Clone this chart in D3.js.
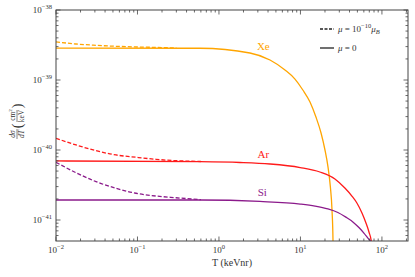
<!DOCTYPE html>
<html>
<head>
<meta charset="utf-8">
<script src="https://cdn.jsdelivr.net/npm/d3@7"></script>
<style>
  body { margin: 0; background: #fff; }
  text { font-family: "Liberation Serif", "DejaVu Serif", serif; fill: #333; }
</style>
</head>
<body>
<svg id="chart" width="415" height="277" font-family="Liberation Serif, serif"></svg>
<script>
// values (T in keVnr, dsigma/dT in cm^2/keV)
const xeSolidT = [0.01, 0.585, 2.4, 4.23, 6.46, 8.57, 10.7, 13.1, 15.5, 17.9, 20.0, 21.8, 23.3, 24.4, 25.1, 25.3];
const xeSolid = [2.86e-39, 2.84e-39, 2.43e-39, 1.93e-39, 1.39e-39, 1.03e-39, 7.2e-40, 4.85e-40, 2.96e-40, 1.75e-40, 1.0e-40, 5.7e-41, 2.96e-41, 1.39e-41, 5e-42, 1e-42];
const xeDashT = [0.01, 0.0176, 0.031, 0.0545, 0.169, 0.3];
const xeDash = [3.5e-39, 3.27e-39, 3.13e-39, 3.03e-39, 2.92e-39, 2.87e-39];

const arSolidT = [0.01, 0.585, 1.81, 4.23, 9.92, 17.3, 26.5, 35.1, 42.8, 49.3, 56.9, 63.7, 69.3, 74.3, 76];
const arSolid = [6.97e-41, 6.8e-41, 6.63e-41, 6.31e-41, 5.62e-41, 4.85e-41, 3.85e-41, 2.86e-41, 2.2e-41, 1.75e-41, 1.26e-41, 9.06e-42, 6.74e-42, 4.85e-42, 1e-42];
const arDashT = [0.01, 0.0176, 0.031, 0.0545, 0.096, 0.169, 0.297, 0.6];
const arDash = [1.47e-40, 1.18e-40, 9.77e-41, 8.49e-41, 7.87e-41, 7.36e-41, 7.04e-41, 6.85e-41];

const siSolidT = [0.01, 0.585, 3.18, 9.92, 15.1, 21.7, 28.8, 36.1, 44.0, 52.2, 60.1, 67.3, 73.3, 77.6];
const siSolid = [1.93e-41, 1.93e-41, 1.84e-41, 1.69e-41, 1.58e-41, 1.44e-41, 1.28e-41, 1.10e-41, 9.4e-42, 7.8e-42, 6.5e-42, 5.5e-42, 4.85e-42, 1e-42];
const siDashT = [0.01, 0.0176, 0.031, 0.0545, 0.096, 0.169, 0.297, 0.6];
const siDash = [6.67e-41, 4.74e-41, 3.53e-41, 2.84e-41, 2.41e-41, 2.2e-41, 2.08e-41, 1.95e-41];

const xTickExp = [-2, -1, 0, 1, 2];
const yTickExp = [-41, -40, -39, -38];

const series = [
  {name: "Xe", color: "#ffa500", T: xeSolidT, v: xeSolid, dT: xeDashT, dv: xeDash, lab: [3.5, 2.68e-39]},
  {name: "Ar", color: "#ff1a1a", T: arSolidT, v: arSolid, dT: arDashT, dv: arDash, lab: [3.5, 7.7e-41]},
  {name: "Si", color: "#8b1a8b", T: siSolidT, v: siSolid, dT: siDashT, dv: siDash, lab: [3.4, 2.2e-41]}
];

const svg = d3.select('#chart');
const mLeft = 56, mRight = 408, mTop = 10, mBottom = 241;

const x = d3.scaleLog().domain([0.01, Math.pow(10, 2.32)]).range([mLeft, mRight]);
const y = d3.scaleLog().domain([Math.pow(10, -41.3), 1e-38]).range([mBottom, mTop]);

svg.append('clipPath').attr('id', 'clip')
  .append('rect').attr('x', mLeft).attr('y', mTop).attr('width', mRight - mLeft).attr('height', mBottom - mTop);

const line = d3.line().x(d => x(d[0])).y(d => y(d[1])).curve(d3.curveMonotoneX);

const plot = svg.append('g').attr('clip-path', 'url(#clip)');
series.forEach(s => {
  plot.append('path')
    .attr('d', line(s.T.map((t, i) => [t, s.v[i]])))
    .attr('fill', 'none').attr('stroke', s.color).attr('stroke-width', 1.3);
  plot.append('path')
    .attr('d', line(s.dT.map((t, i) => [t, s.dv[i]])))
    .attr('fill', 'none').attr('stroke', s.color).attr('stroke-width', 1.3)
    .attr('stroke-dasharray', '4,2');
  svg.append('text')
    .attr('x', x(s.lab[0])).attr('y', y(s.lab[1]))
    .attr('text-anchor', 'middle').attr('font-size', 11)
    .style('fill', s.color).text(s.name);
});

// frame and ticks (inside, on all four sides)
const axisColor = '#444';
svg.append('rect').attr('x', mLeft).attr('y', mTop).attr('width', mRight - mLeft).attr('height', mBottom - mTop)
  .attr('fill', 'none').attr('stroke', axisColor).attr('stroke-width', 1);

const xMinor = [], yMinor = [];
for (let e = -2; e <= 2; e++) for (let k = 2; k <= 9; k++) { const v = k * Math.pow(10, e); if (v < x.domain()[1]) xMinor.push(v); }
for (let e = -42; e <= -39; e++) for (let k = 2; k <= 9; k++) { const v = k * Math.pow(10, e); if (v > y.domain()[0] && v < 1e-38) yMinor.push(v); }

const ticks = svg.append('g').attr('stroke', axisColor).attr('stroke-width', 0.8);
xTickExp.forEach(e => {
  const px = x(Math.pow(10, e));
  ticks.append('line').attr('x1', px).attr('x2', px).attr('y1', mBottom).attr('y2', mBottom - 4.5);
  ticks.append('line').attr('x1', px).attr('x2', px).attr('y1', mTop).attr('y2', mTop + 4.5);
});
xMinor.forEach(v => {
  const px = x(v);
  ticks.append('line').attr('x1', px).attr('x2', px).attr('y1', mBottom).attr('y2', mBottom - 2.5);
  ticks.append('line').attr('x1', px).attr('x2', px).attr('y1', mTop).attr('y2', mTop + 2.5);
});
yTickExp.forEach(e => {
  const py = y(Math.pow(10, e));
  ticks.append('line').attr('x1', mLeft).attr('x2', mLeft + 4.5).attr('y1', py).attr('y2', py);
  ticks.append('line').attr('x1', mRight).attr('x2', mRight - 4.5).attr('y1', py).attr('y2', py);
});
yMinor.forEach(v => {
  const py = y(v);
  ticks.append('line').attr('x1', mLeft).attr('x2', mLeft + 2.5).attr('y1', py).attr('y2', py);
  ticks.append('line').attr('x1', mRight).attr('x2', mRight - 2.5).attr('y1', py).attr('y2', py);
});

// tick labels 10^n
xTickExp.forEach(e => {
  const t = svg.append('text').attr('x', x(Math.pow(10, e))).attr('y', mBottom + 12)
    .attr('text-anchor', 'middle').attr('font-size', 9);
  t.append('tspan').text('10');
  t.append('tspan').attr('dy', -4).attr('font-size', 6.5).text(e < 0 ? '\u2212' + (-e) : String(e));
});
yTickExp.forEach(e => {
  const t = svg.append('text').attr('x', mLeft - 4).attr('y', y(Math.pow(10, e)) + 3)
    .attr('text-anchor', 'end').attr('font-size', 9);
  t.append('tspan').text('10');
  t.append('tspan').attr('dy', -4).attr('font-size', 6.5).text('\u2212' + (-e));
});

// axis titles
svg.append('text').attr('x', (mLeft + mRight) / 2).attr('y', 266)
  .attr('text-anchor', 'middle').attr('font-size', 10).text('T (keVnr)');

const yl = svg.append('g').attr('transform', 'translate(17,120) rotate(-90)');
const fs = 7.5;
yl.append('text').attr('x', -14).attr('y', -2).attr('text-anchor', 'middle')
  .attr('font-size', fs).attr('font-style', 'italic').text('d\u03c3');
yl.append('text').attr('x', -14).attr('y', 7).attr('text-anchor', 'middle')
  .attr('font-size', fs).attr('font-style', 'italic').text('dT');
yl.append('line').attr('x1', -19).attr('x2', -9).attr('y1', 0).attr('y2', 0)
  .attr('stroke', '#333').attr('stroke-width', 0.6);
yl.append('text').attr('x', -6).attr('y', 5).attr('text-anchor', 'middle').attr('font-size', 14).text('(');
const unitNum = yl.append('text').attr('x', 5).attr('y', -2).attr('text-anchor', 'middle').attr('font-size', fs);
unitNum.append('tspan').text('cm');
unitNum.append('tspan').attr('dy', -3).attr('font-size', 5).text('2');
yl.append('text').attr('x', 4).attr('y', 7).attr('text-anchor', 'middle').attr('font-size', fs).text('keV');
yl.append('line').attr('x1', -2).attr('x2', 10).attr('y1', 0).attr('y2', 0).attr('stroke', '#333').attr('stroke-width', 0.6);
yl.append('text').attr('x', 14).attr('y', 5).attr('text-anchor', 'middle').attr('font-size', 14).text(')');

// legend
const lg = svg.append('g');
lg.append('line').attr('x1', 320).attr('x2', 334).attr('y1', 29).attr('y2', 29)
  .attr('stroke', '#222').attr('stroke-width', 1.3).attr('stroke-dasharray', '3,1.5');
lg.append('line').attr('x1', 320).attr('x2', 334).attr('y1', 48).attr('y2', 48)
  .attr('stroke', '#222').attr('stroke-width', 1.3);
const l1 = lg.append('text').attr('x', 338).attr('y', 32).attr('font-size', 9);
l1.append('tspan').attr('font-style', 'italic').text('\u03bc');
l1.append('tspan').text(' = 10');
l1.append('tspan').attr('dy', -4).attr('font-size', 6.5).text('\u221210');
l1.append('tspan').attr('dy', 4).attr('font-style', 'italic').text('\u03bc');
l1.append('tspan').attr('dy', 2).attr('font-size', 6.5).attr('font-style', 'italic').text('B');
const l2 = lg.append('text').attr('x', 338).attr('y', 51).attr('font-size', 9);
l2.append('tspan').attr('font-style', 'italic').text('\u03bc');
l2.append('tspan').text(' = 0');
</script>
</body>
</html>
